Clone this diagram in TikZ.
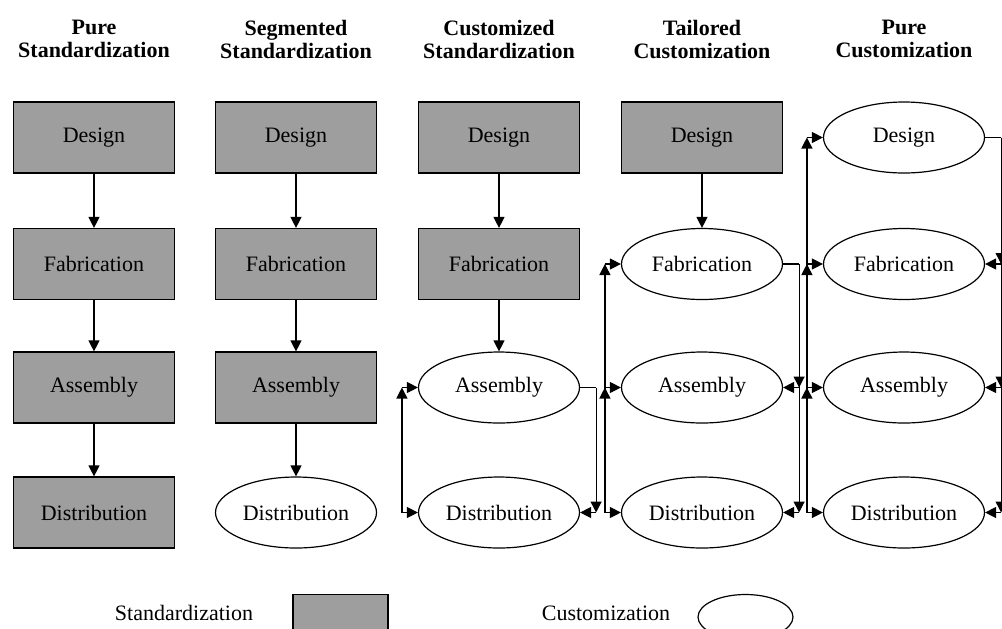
\documentclass[tikz,border=0pt]{standalone}
\usepackage{fontspec}
\setmainfont{Liberation Serif}
\usetikzlibrary{shapes.geometric,arrows.meta}
\definecolor{standgray}{gray}{0.62}

\begin{document}
\begin{tikzpicture}[x=0.5pt,y=-0.5pt,font=\fontsize{11}{11.5}\selectfont,line width=0.6pt,
	tip/.style={-{Triangle[length=5.5pt,width=5.5pt]}},
	stand/.style={draw,fill=standgray,rectangle,inner sep=0pt,minimum width=80.5pt,minimum height=35.5pt},
	cust/.style={draw,ellipse,inner sep=0pt,minimum width=80.5pt,minimum height=35.5pt},
	head/.style={font=\fontsize{11}{11.5}\selectfont\bfseries,align=center}]
\clip (0,0) rectangle (1002,628);
% headers
\node[head] (h1) at (94,39) {Pure\\Standardization};
\node[head] (h2) at (296,39) {Segmented\\Standardization};
\node[head] (h3) at (499,39) {Customized\\Standardization};
\node[head] (h4) at (702,39) {Tailored\\Customization};
\node[head] (h5) at (904,39) {Pure\\Customization};
% stages, the first \k of each column are standardized
\foreach \c/\x/\k in {1/94/4,2/296/3,3/499/2,4/702/1,5/904/0} {
	\foreach \r/\y/\t in {1/137.5/Design,2/264/Fabrication,3/387.5/Assembly,4/512.5/Distribution} {
		\ifnum\r>\k
			\node[cust] (n\c\r) at (\x,\y) {\t};
		\else
			\node[stand] (n\c\r) at (\x,\y) {\t};
		\fi
	}
}
\foreach \a/\b in {11/12,12/13,13/14,21/22,22/23,23/24,31/32,32/33,41/42}
	\draw[tip] (n\a.south) -- (n\b.north);
% feedback between customized stages
\foreach \c/\t in {3/3,4/2,5/1} {
	\draw (n\c\t.east) -- ([xshift=8pt]n\c\t.east);
	\foreach \r in {\t,...,4} {
		\draw[tip] ([xshift=-8pt]n\c\r.west) -- (n\c\r.west);
		\ifnum\r<4
			\draw[tip] ([xshift=-8pt]n\c4.west) -- ([xshift=-8pt]n\c\r.west);
		\fi
		\ifnum\r>\t
			\draw[tip] ([xshift=8pt]n\c\t.east) -- ([xshift=8pt]n\c\r.east);
			\draw[tip] ([xshift=8pt]n\c\r.east) -- (n\c\r.east);
		\fi
	}
}
% legend
\node[anchor=base] (stdlabel) at (184,620) {Standardization};
\node[stand,minimum width=47.5pt,minimum height=22.5pt] (stdkey) at (340.5,617) {};
\node[anchor=base] (custlabel) at (606,620) {Customization};
\node[cust,minimum width=47.5pt,minimum height=22.5pt] (custkey) at (745.5,617) {};
\end{tikzpicture}
\end{document}
